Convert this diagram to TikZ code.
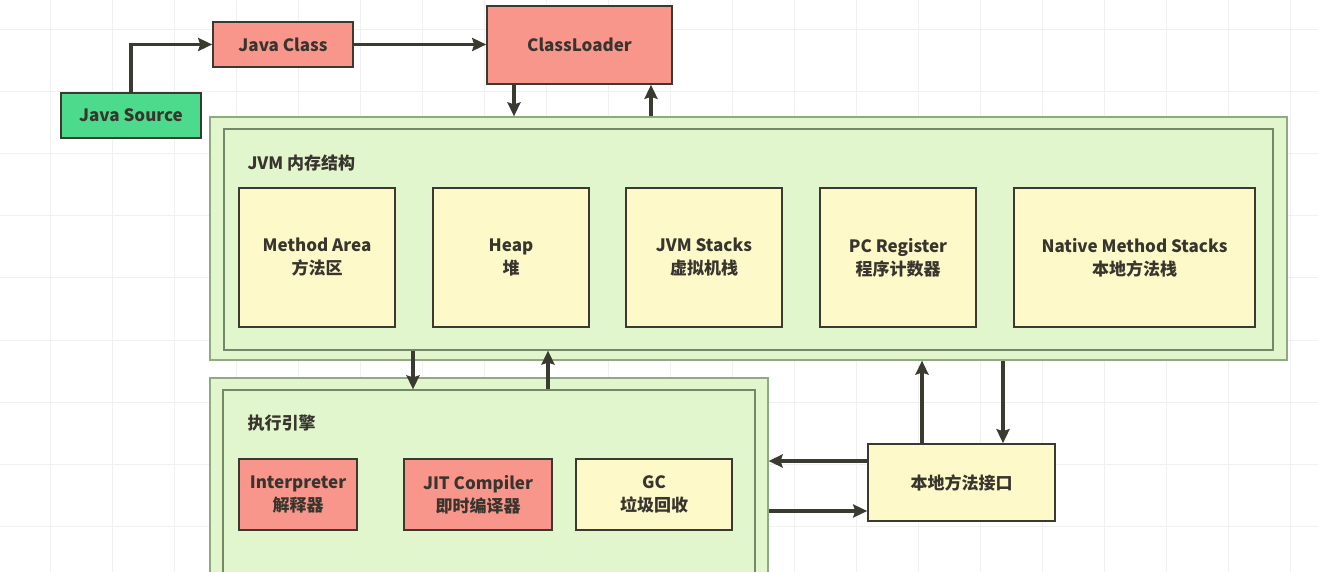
\documentclass[tikz,border=0pt]{standalone}
\usepackage{fontspec}
\setmainfont{Noto Sans CJK SC}
\usepackage{tikz}
\usetikzlibrary{arrows.meta}

\definecolor{salmon}{HTML}{F8968B}
\definecolor{srcgreen}{HTML}{4CDB8C}
\definecolor{paleyellow}{HTML}{FEF9C8}
\definecolor{palegreen}{HTML}{E2F6CD}
\definecolor{frameline}{HTML}{8FAA80}
\definecolor{boxline}{HTML}{3A3A30}
\definecolor{txt}{HTML}{38352E}
\definecolor{gridline}{HTML}{F0F0F0}

\begin{document}
\begin{tikzpicture}[x=1pt, y=-1pt, >={Stealth[length=14pt,width=13pt,inset=2pt]},
  box/.style={draw=boxline, line width=1.6pt, text=txt, align=center, inner sep=0pt,
    font=\fontsize{17}{23}\selectfont\bfseries},
  frame/.style={draw=frameline, line width=1.2pt, fill=palegreen, inner sep=0pt},
  flow/.style={->, line width=3.8pt, draw=boxline}]
\useasboundingbox (0,0) rectangle (1318,572);
\clip (0,0) rectangle (1318,572);
\fill[white] (0,0) rectangle (1318,572);

% canvas grid
\foreach \x in {50,112,...,1318}
  \draw[gridline, line width=1pt] (\x,0) -- (\x,572);
\foreach \y in {30,92,...,572}
  \draw[gridline, line width=1pt] (0,\y) -- (1318,\y);

% loading
\node[box, fill=srcgreen, minimum width=140pt, minimum height=45pt] (jsrc) at (131,115.5) {Java Source};
\node[box, fill=salmon, minimum width=140pt, minimum height=45pt] (jcls) at (283,44.5) {Java Class};
\node[box, fill=salmon, minimum width=185pt, minimum height=78pt] (cl) at (579.5,45) {ClassLoader};

% JVM memory
\node[frame, minimum width=1077pt, minimum height=243pt] (jvm) at (748.5,238.5) {};
\node[frame, draw=frameline!80!black, minimum width=1049pt, minimum height=221pt] (jvmin) at (748.5,239.5) {};
\node[anchor=west, text=txt, font=\fontsize{17}{23}\selectfont\bfseries] (jvmlbl) at (244,163) {JVM 内存结构};

\node[box, fill=paleyellow, minimum width=156pt, minimum height=139pt] (marea) at (317,257.5) {Method Area\\方法区};
\node[box, fill=paleyellow, minimum width=156pt, minimum height=139pt] (heap) at (511,257.5) {Heap\\堆};
\node[box, fill=paleyellow, minimum width=156pt, minimum height=139pt] (jstk) at (704,257.5) {JVM Stacks\\虚拟机栈};
\node[box, fill=paleyellow, minimum width=156pt, minimum height=139pt] (pcreg) at (898,257.5) {PC Register\\程序计数器};
\node[box, fill=paleyellow, minimum width=241pt, minimum height=139pt] (nstk) at (1134.5,257.5) {Native Method Stacks\\本地方法栈};

% execution engine
\node[frame, minimum width=558pt, minimum height=242pt] (eng) at (489,499) {};
\node[frame, draw=frameline!80!black, minimum width=532pt, minimum height=220pt] (engin) at (489,500) {};
\node[anchor=west, text=txt, font=\fontsize{17}{23}\selectfont\bfseries] (englbl) at (244,423) {执行引擎};

\node[box, fill=salmon, minimum width=118pt, minimum height=71pt] (interp) at (298,494.5) {Interpreter\\解释器};
\node[box, fill=salmon, minimum width=148pt, minimum height=71pt] (jit) at (478,494.5) {JIT Compiler\\即时编译器};
\node[box, fill=paleyellow, minimum width=156pt, minimum height=71pt] (gc) at (654,494.5) {GC\\垃圾回收};

% native interface
\node[box, fill=paleyellow, minimum width=187pt, minimum height=77pt] (jni) at (961.5,482.5) {本地方法接口};

% connectors
\draw[flow] (jsrc.north) |- (jcls.west);
\draw[flow] (jcls.east) -- (jcls.east -| cl.west);
\draw[flow] (cl.south -| 514,0) -- (jvm.north -| 514,0);
\draw[flow] (jvm.north -| 651,0) -- (cl.south -| 651,0);
\draw[flow] (jvmin.south -| 413,0) -- (engin.north -| 413,0);
\draw[flow] (engin.north -| 548,0) -- (jvmin.south -| 548,0);
\draw[flow] (jni.north -| 922,0) -- (jvm.south -| 922,0);
\draw[flow] (jvm.south -| 1003,0) -- (jni.north -| 1003,0);
\draw[flow] (jni.west |- 0,461) -- (eng.east |- 0,461);
\draw[flow] (eng.east |- 0,511) -- (jni.west |- 0,511);
\end{tikzpicture}
\end{document}
